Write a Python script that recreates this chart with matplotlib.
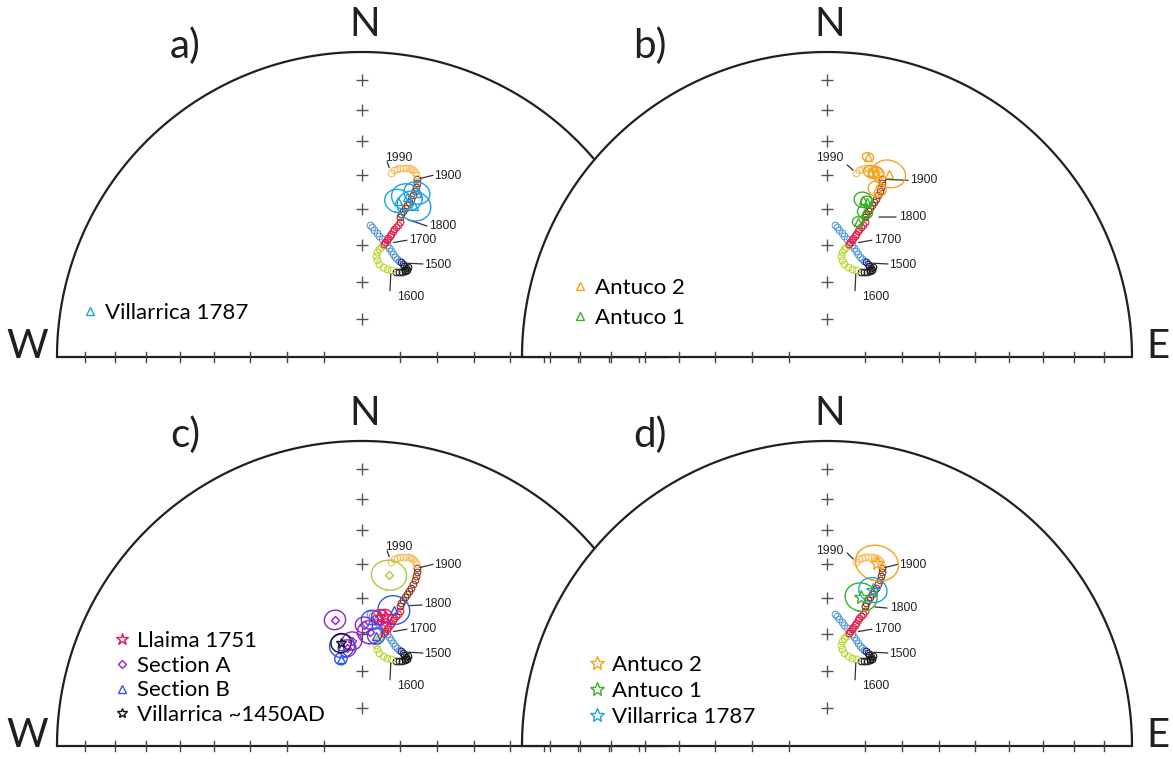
import numpy as np
import matplotlib.pyplot as plt

# Reference secular variation curve (declination, |inclination|), one list per century
blue_dec = [3.5, 4.4, 5.4, 6.9, 8.0, 9.6, 11.3, 12.6, 13.9, 15.3, 16.8, 18.3, 19.7, 21.1]
blue_inc = [54.3, 54.8, 55.6, 56.4, 57.1, 57.8, 58.5, 59.2, 59.9, 60.5, 61.1, 61.7, 62.1, 62.4]
navy_dec = [22.3, 23.8]
navy_inc = [62.5, 62.8]
black_dec = [24.8, 26.3, 27.3, 27.0, 26.0, 26.6, 25.2, 23.5, 21.8]
black_inc = [63.1, 63.4, 63.8, 63.0, 64.0, 64.3, 64.9, 65.2, 65.5]
ygreen_dec = [18.4, 15.9, 13.1, 10.4, 8.8, 7.9, 8.1, 8.9, 9.8, 10.6]
ygreen_inc = [65.4, 65.5, 65.2, 64.7, 63.7, 62.6, 61.5, 60.6, 60.0, 59.4]
red_dec = [11.0, 11.3, 12.1, 12.3, 13.0, 13.3, 13.8, 14.0, 14.7, 15.3, 15.7]
red_inc = [59.1, 58.5, 57.8, 57.2, 56.5, 55.9, 55.0, 54.4, 53.7, 53.0, 52.0]
brown_dec = [15.2, 15.3, 15.7, 16.1, 16.5, 16.9, 17.2, 17.5, 17.7, 17.6, 17.5, 17.2]
brown_inc = [50.7, 49.8, 48.8, 47.9, 46.8, 45.8, 44.9, 43.7, 42.3, 41.2, 40.0, 38.9]
orange_dec = [16.5, 16.0, 15.3, 14.6, 14.0, 13.1, 12.2, 11.4, 10.5, 9.7, 9.0]
orange_inc = [37.8, 37.0, 36.6, 36.4, 36.3, 36.5, 36.7, 36.9, 37.3, 37.8, 38.8]

years = ['1500', '1600', '1700', '1800', '1900', '1990']
year_dec = [23.0, 18.4, 11.0, 15.2, 17.2, 9.0]
year_inc = [62.6, 65.4, 59.1, 50.7, 38.9, 38.8]

# Site means with alpha95
vil1787_dec = [13.0, 15.7, 18.5, 19.0]
vil1787_inc = [46.4, 44.7, 42.7, 46.5]
vil1787_a95 = [3.3, 3.8, 3.2, 4.2]

antuco2_dec = [11.6, 13.4, 14.9, 18.7, 16.6]
antuco2_inc = [33.5, 37.6, 37.6, 36.7, 42.0]
antuco2_a95 = [1.3, 1.8, 1.8, 4.0, 2.2]

antuco1_dec = [12.9, 14.4, 14.7, 12.9]
antuco1_inc = [46.1, 46.3, 49.3, 52.5]
antuco1_a95 = [2.2, 1.5, 1.9, 1.4]

llaima_dec = [7.9, 10.0]
llaima_inc = [54.9, 54.4]
llaima_a95 = [2.1, 1.9]

secA_dec = [347.9, 0.9, 4.0, 354.6, 351.3]
secA_inc = [55.2, 57.4, 59.3, 61.7, 63.5]
secA_a95 = [2.7, 2.2, 3.2, 2.5, 2.3]

secB_dec = [13.2, 4.5, 7.3, 348.7, 346.4]
secB_inc = [52.2, 55.9, 60.2, 62.6, 66.0]
secB_a95 = [4.0, 2.7, 2.2, 3.2, 1.6]

vil1450_dec = [348.5]
vil1450_inc = [61.8]
vil1450_a95 = [2.6]

odd_dec = [9.0]
odd_inc = [42.7]
odd_a95 = [4.3]

# flow means for panel d
mean_a2 = (15.3, 37.8, 5.2)
mean_a1 = (12.9, 48.5, 4.0)
mean_v = (16.4, 45.7, 3.5)

W, H = 1173, 759
R = 305  # net radius in pixels
EDGE = '#231f20'
plt.rcParams['font.family'] = ['Lato', 'DejaVu Sans']

# year label placement (pixels): leader line start, gap at curve, text offset, alignment
LABELS = {'1500': ((21, -1), 4, (22, -2), 'left'),
          '1600': ((-1, -21), 3, (6, -27), 'left'),
          '1700': ((23, 4), 7, (25, 4), 'left'),
          '1800': ((27, -9), 6, (29, -9), 'left'),
          '1900': ((16, 4), 2, (17, 3), 'left'),
          '1990': ((-4, 11), 4, (8, 15), 'center')}


def proj(dec, inc):
    # equal-area (Schmidt) projection, unit radius
    d = np.radians(np.asarray(dec, float))
    i = np.radians(np.abs(np.asarray(inc, float)))
    rho = np.sqrt(2) * np.sin((np.pi / 2 - i) / 2)
    return rho * np.sin(d), rho * np.cos(d)


def cone(dec, inc, a95, n=120):
    d, i, a = np.radians([dec, abs(inc), a95])
    v = np.array([np.cos(i) * np.cos(d), np.cos(i) * np.sin(d), np.sin(i)])
    u1 = np.array([-np.sin(i) * np.cos(d), -np.sin(i) * np.sin(d), np.cos(i)])
    u2 = np.cross(v, u1)
    t = np.linspace(0, 2 * np.pi, n)
    p = np.cos(a) * v[:, None] + np.sin(a) * (np.outer(u1, np.cos(t)) + np.outer(u2, np.sin(t)))
    return proj(np.degrees(np.arctan2(p[1], p[0])), np.degrees(np.arcsin(p[2])))


def net(cx, by, letter, side, labels):
    ax = fig.add_axes([(cx - 1.15 * R) / W, (H - by - 0.15 * R) / H, 2.3 * R / W, 1.3 * R / H])
    ax.set_xlim(-1.15, 1.15)
    ax.set_ylim(-0.15, 1.15)
    ax.axis('off')
    t = np.linspace(0, np.pi, 300)
    ax.fill(np.cos(t), np.sin(t), facecolor='white', edgecolor=EDGE, lw=1.6, zorder=1)
    for inc in range(10, 90, 10):
        r = proj(0, inc)[1]
        for s in (-1, 1):
            ax.plot([s * r, s * r], [-0.017, 0.017], color='#444444', lw=1.0, zorder=2)
        ax.plot(0, r, marker='+', ms=9, mew=1.0, color='#555555', zorder=2)
    ax.text(0.01, 1.09, 'N', ha='center', va='center', fontsize=29, color=EDGE)
    ax.text(-0.58, 1.02, letter, ha='center', va='center', fontsize=29, color=EDGE)
    if side == 'W':
        ax.text(-1.097, 0.035, 'W', ha='center', va='center', fontsize=29, color=EDGE)
    else:
        ax.text(1.085, 0.035, 'E', ha='center', va='center', fontsize=29, color=EDGE)
    draw_curve(ax, labels)
    return ax


def draw_curve(ax, labels):
    segs = [(blue_dec, blue_inc, '#5a9ad8'), (navy_dec, navy_inc, '#23237a'),
            (black_dec, black_inc, '#1a1a1a'), (ygreen_dec, ygreen_inc, '#b9d630'),
            (red_dec, red_inc, '#e81b48'), (brown_dec, brown_inc, '#8c3214'),
            (orange_dec, orange_inc, '#f9be63')]
    for d, i, c in segs:
        x, y = proj(d, i)
        ax.plot(x, y, 'o', ls='none', ms=4.8, mfc='none', mec=c, mew=0.8, zorder=3)
    for yr, d, i in zip(years, year_dec, year_inc):
        x, y = proj(d, i)
        start, gap, toff, ha = labels[yr]
        ax.annotate('', xy=(x, y), xytext=start, textcoords='offset pixels',
                    arrowprops=dict(arrowstyle='-', lw=0.9, color='#333333',
                                    shrinkA=0, shrinkB=gap))
        ax.annotate(yr, xy=(x, y), xytext=toff, textcoords='offset pixels',
                    ha=ha, va='center', fontsize=8.7, color='#222222',
                    family=['Liberation Sans', 'DejaVu Sans'])


def sites(ax, dec, inc, a95, color, marker, ms, label=None, lw=1.0):
    for d, i, a in zip(dec, inc, a95):
        cxy = cone(d, i, a)
        ax.plot(cxy[0], cxy[1], color=color, lw=lw, zorder=4)
    x, y = proj(dec, inc)
    ax.plot(x, y, marker, ls='none', ms=ms, mfc='none', mec=color, mew=1.0,
            zorder=5, label=label)


def legend(ax, left, top, pitch, handles=None, labels=None):
    if handles is None:
        handles, labels = ax.get_legend_handles_labels()
    ax.legend(handles, labels, loc='upper left', bbox_to_anchor=(left / W, 1 - top / H),
              bbox_transform=fig.transFigure, frameon=False, fontsize=16,
              handlelength=0.8, handletextpad=0.3, borderpad=0, borderaxespad=0,
              labelspacing=pitch)


fig = plt.figure(figsize=(W / 100, H / 100), dpi=100)

CYAN = '#1ba3e0'
ORANGE = '#f7a21b'
GREEN = '#3bb024'

lab_b = dict(LABELS)
lab_b['1990'] = ((-9, 8), 3, (-13, 15), 'right')
lab_b['1900'] = ((26, -1), 3, (28, -1), 'left')
lab_b['1800'] = ((31, 0), 10, (34, 0), 'left')
lab_c = dict(LABELS)
lab_c['1800'] = ((22, 1), 7, (24, 2), 'left')
lab_d = dict(LABELS)
lab_d['1990'] = ((-9, 9), 3, (-13, 11), 'right')
lab_d['1800'] = ((22, -2), 7, (25, -2), 'left')

# a)
ax = net(362, 357, 'a)', 'W', LABELS)
sites(ax, vil1787_dec, vil1787_inc, vil1787_a95, CYAN, '^', 6, 'Villarrica 1787')
legend(ax, 81, 303, 0.3)

# b)
ax = net(827, 357, 'b)', 'E', lab_b)
sites(ax, antuco2_dec, antuco2_inc, antuco2_a95, ORANGE, '^', 6, 'Antuco 2')
sites(ax, antuco1_dec, antuco1_inc, antuco1_a95, GREEN, '^', 6, 'Antuco 1')
legend(ax, 571, 278, 0.44)

# c)
ax = net(362, 746, 'c)', 'W', lab_c)
sites(ax, odd_dec, odd_inc, odd_a95, '#a8cc3c', 'D', 4.5)
sites(ax, secA_dec, secA_inc, secA_a95, '#9a1fcb', 'D', 4.5, 'Section A')
sites(ax, secB_dec, secB_inc, secB_a95, '#2f55f0', '^', 6, 'Section B')
sites(ax, llaima_dec, llaima_inc, llaima_a95, '#e8175d', '*', 9, 'Llaima 1751')
sites(ax, vil1450_dec, vil1450_inc, vil1450_a95, '#111111', '*', 7, 'Villarrica ~1450AD')
h, l = ax.get_legend_handles_labels()
order = [l.index(k) for k in ['Llaima 1751', 'Section A', 'Section B', 'Villarrica ~1450AD']]
legend(ax, 113, 631, 0.21, [h[k] for k in order], [l[k] for k in order])

# d)
ax = net(827, 746, 'd)', 'E', lab_d)
sites(ax, [mean_a2[0]], [mean_a2[1]], [mean_a2[2]], ORANGE, '*', 10, 'Antuco 2')
sites(ax, [mean_a1[0]], [mean_a1[1]], [mean_a1[2]], GREEN, '*', 10, 'Antuco 1')
sites(ax, [mean_v[0]], [mean_v[1]], [mean_v[2]], CYAN, '*', 10, 'Villarrica 1787')
legend(ax, 588, 655, 0.26)

fig.savefig('out.png', dpi=100)
